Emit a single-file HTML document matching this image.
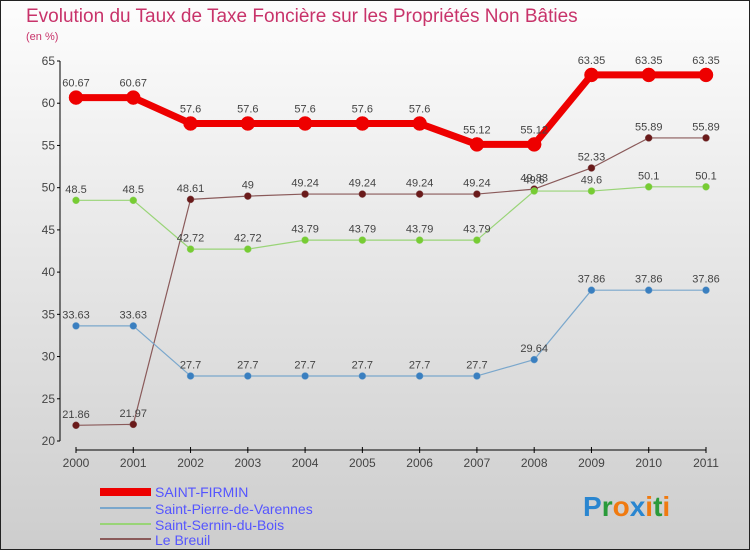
<!DOCTYPE html>
<html><head><meta charset="utf-8"><style>
html,body{margin:0;padding:0}
body{width:750px;height:550px;overflow:hidden;font-family:"Liberation Sans",sans-serif}
</style></head><body>
<svg id="chart" width="750" height="550" xmlns="http://www.w3.org/2000/svg">
<defs><linearGradient id="bg" x1="0" y1="0" x2="0" y2="1"><stop offset="0" stop-color="#fdfdfd"/><stop offset="1" stop-color="#cdcdcd"/></linearGradient></defs>
<rect x="0.5" y="0.5" width="749" height="549" fill="url(#bg)" stroke="#222"/>
<text x="26" y="22" font-size="19" fill="#c8336a">Evolution du Taux de Taxe Foncière sur les Propriétés Non Bâties</text>
<text x="26" y="40" font-size="11" fill="#c8336a">(en %)</text>
<g id="axes"></g><g id="series"></g>
<g>
<rect x="100" y="488" width="51" height="8" fill="#e00"/>
<text x="155" y="497" font-size="14" fill="#55f">SAINT-FIRMIN</text>
<line x1="100" y1="508" x2="151" y2="508" stroke="#7aa7cc" stroke-width="2"/>
<text x="155" y="514" font-size="14" fill="#55f">Saint-Pierre-de-Varennes</text>
<line x1="100" y1="524" x2="151" y2="524" stroke="#99d477" stroke-width="2"/>
<text x="155" y="530" font-size="14" fill="#55f">Saint-Sernin-du-Bois</text>
<line x1="100" y1="539" x2="151" y2="539" stroke="#8a5a5a" stroke-width="2"/>
<text x="155" y="545" font-size="14" fill="#55f">Le Breuil</text>
</g>
<g font-size="28" font-weight="bold">
<text x="583" y="516"><tspan fill="#2a86d0">P</tspan><tspan fill="#2a9a3a">r</tspan><tspan fill="#f07a10">o</tspan><tspan fill="#2a86d0">x</tspan><tspan fill="#f07a10">i</tspan><tspan fill="#2a9a3a">t</tspan><tspan fill="#f07a10">i</tspan></text>
</g>
</svg>
<script>
const years=[2000,2001,2002,2003,2004,2005,2006,2007,2008,2009,2010,2011];
const yTicks=[20,25,30,35,40,45,50,55,60,65];
const sFirmin=[60.67,60.67,57.6,57.6,57.6,57.6,57.6,55.12,55.12,63.35,63.35,63.35];
const sPierre=[33.63,33.63,27.7,27.7,27.7,27.7,27.7,27.7,29.64,37.86,37.86,37.86];
const sSernin=[48.5,48.5,42.72,42.72,43.79,43.79,43.79,43.79,49.6,49.6,50.1,50.1];
const breuil=[21.86,21.97,48.61,49,49.24,49.24,49.24,49.24,49.83,52.33,55.89,55.89];
const NS="http://www.w3.org/2000/svg";
const X=i=>76+i*(706-76)/(years.length-1);
const Y=v=>441-(v-20)*(380/45);
function mk(t,a,p){const e=document.createElementNS(NS,t);for(const k in a)e.setAttribute(k,a[k]);p.appendChild(e);return e;}
const ax=document.getElementById('axes');
const ya=mk('line',{x1:60,y1:61,x2:60,y2:441,stroke:'#000'},ax);


yTicks.forEach(v=>{
 mk('line',{x1:57,y1:Y(v),x2:60,y2:Y(v),stroke:'#000'},ax);
 const t=mk('text',{x:55,y:Y(v)+4,'font-size':12,fill:'#444','text-anchor':'end'},ax);t.textContent=v;
 
 
});
const xa=mk('line',{x1:76,y1:450,x2:706,y2:450,stroke:'#000'},ax);


years.forEach((y,i)=>{
 mk('line',{x1:X(i),y1:447,x2:X(i),y2:453,stroke:'#000'},ax);
 const t=mk('text',{x:X(i),y:467,'font-size':12,fill:'#444','text-anchor':'middle'},ax);t.textContent=y;
 
 
});
const sg=document.getElementById('series');
function series(vals,color,w,r,dot,name){
 const g=mk('g',{},sg);
 
 
 mk('polyline',{points:vals.map((v,i)=>X(i)+','+Y(v)).join(' '),fill:'none',stroke:color,'stroke-width':w,'stroke-linejoin':'round'},g);
 vals.forEach((v,i)=>{
  const c=mk('circle',{cx:X(i),cy:Y(v),r:r,fill:dot,stroke:color,'stroke-width':0.5},g);
  
  
  const t=mk('text',{x:X(i),y:Y(v)-r-4,'font-size':11,fill:'#444','text-anchor':'middle'},g);t.textContent=v;
  
  
 });
}
series(breuil,'#8a5a5a',1.2,3.5,'#6a1a1a','series-le-breuil');
series(sSernin,'#99d477',1.2,3.5,'#77cc33','series-saint-sernin');
series(sPierre,'#7aa7cc',1.2,3.5,'#3a7fc0','series-saint-pierre');
series(sFirmin,'#e00',7,7,'#e00','series-saint-firmin');
</script>
</body></html>
